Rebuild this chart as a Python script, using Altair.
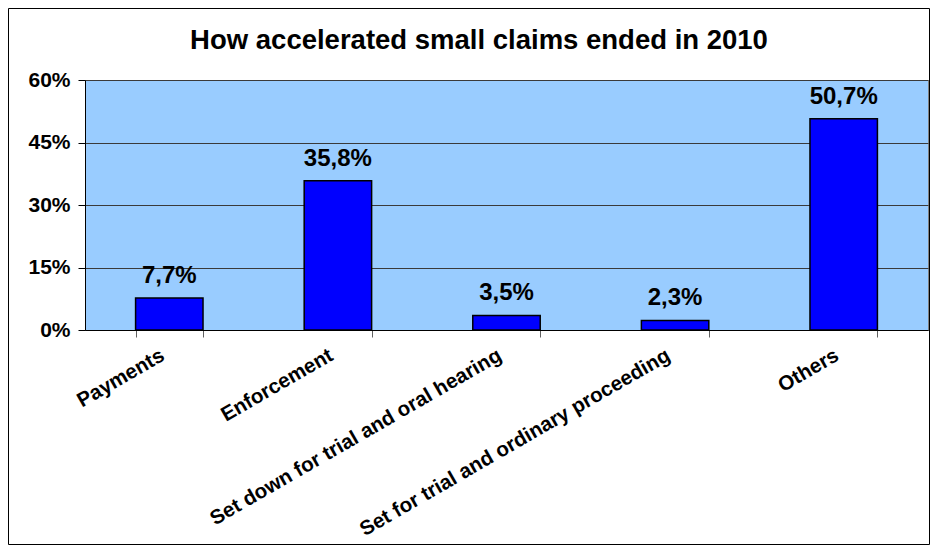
import altair as alt
import pandas as pd

categories = [
    "Payments",
    "Enforcement",
    "Set down for trial and oral hearing",
    "Set for trial and ordinary proceeding",
    "Others",
]
values = [7.7, 35.8, 3.5, 2.3, 50.7]
y_ticks = [0, 15, 30, 45, 60]
title_text = "How accelerated small claims ended in 2010"

labels = [f"{v:.1f}%".replace(".", ",") for v in values]
df = pd.DataFrame({"category": categories, "value": values, "label": labels})

FONT = "Liberation Sans"
W, H = 843, 250
PAD = {"left": 77, "top": 72, "right": 2, "bottom": 215}

x_enc = alt.X(
    "category:N",
    sort=categories,
    scale=alt.Scale(paddingInner=0.6, paddingOuter=0.3),
    axis=alt.Axis(
        title=None,
        labelAngle=-30,
        labelFont=FONT,
        labelFontSize=20.5,
        labelFontWeight="bold",
        labelColor="black",
        labelPadding=8,
        labelOffset=-12,
        labelLimit=0,
        tickBand="extent",
        tickSize=7,
        tickColor="#606060",
        domainColor="black",
        grid=False,
    ),
)
y_enc = alt.Y(
    "value:Q",
    scale=alt.Scale(domain=[0, 60], nice=False),
    axis=alt.Axis(
        title=None,
        values=y_ticks,
        labelExpr="datum.value + '%'",
        labelFont=FONT,
        labelFontSize=21,
        labelFontWeight="bold",
        labelColor="black",
        labelPadding=8,
        tickSize=7,
        tickColor="black",
        domainColor="black",
        grid=True,
        gridColor="#3a3a3a",
        gridWidth=1,
    ),
)

base = alt.Chart(df)
bars = base.mark_bar(color="#0000FF", stroke="black", strokeWidth=1.5).encode(
    x=x_enc, y=y_enc
)
text = base.mark_text(
    font=FONT, fontSize=24, fontWeight="bold", color="black", baseline="alphabetic", dy=-15
).encode(x=alt.X("category:N", sort=categories), y="value:Q", text="label:N")

border = alt.Chart(pd.DataFrame({"k": [0]})).mark_rect(
    fill="transparent", stroke="black", strokeWidth=1
).encode(
    x=alt.value(-PAD["left"] + 0.5),
    x2=alt.value(W + PAD["right"] - 0.5),
    y=alt.value(-PAD["top"] + 0.5),
    y2=alt.value(H + PAD["bottom"] - 0.5),
)

title_layer = alt.Chart(pd.DataFrame({"t": [title_text]})).mark_text(
    font=FONT, fontSize=27.5, fontWeight="bold", color="black",
    baseline="alphabetic", align="center",
).encode(x=alt.value(394), y=alt.value(-31), text="t:N")

chart = (
    alt.layer(bars, text, border, title_layer)
    .properties(
        width=W,
        height=H,
        padding=PAD,
        autosize=alt.AutoSizeParams(type="none"),
        background="white",
    )
    .configure_view(fill="#99CCFF", stroke="#808080", strokeWidth=1)
)

chart.save("out.html", embed_options={"renderer": "svg", "actions": False})
